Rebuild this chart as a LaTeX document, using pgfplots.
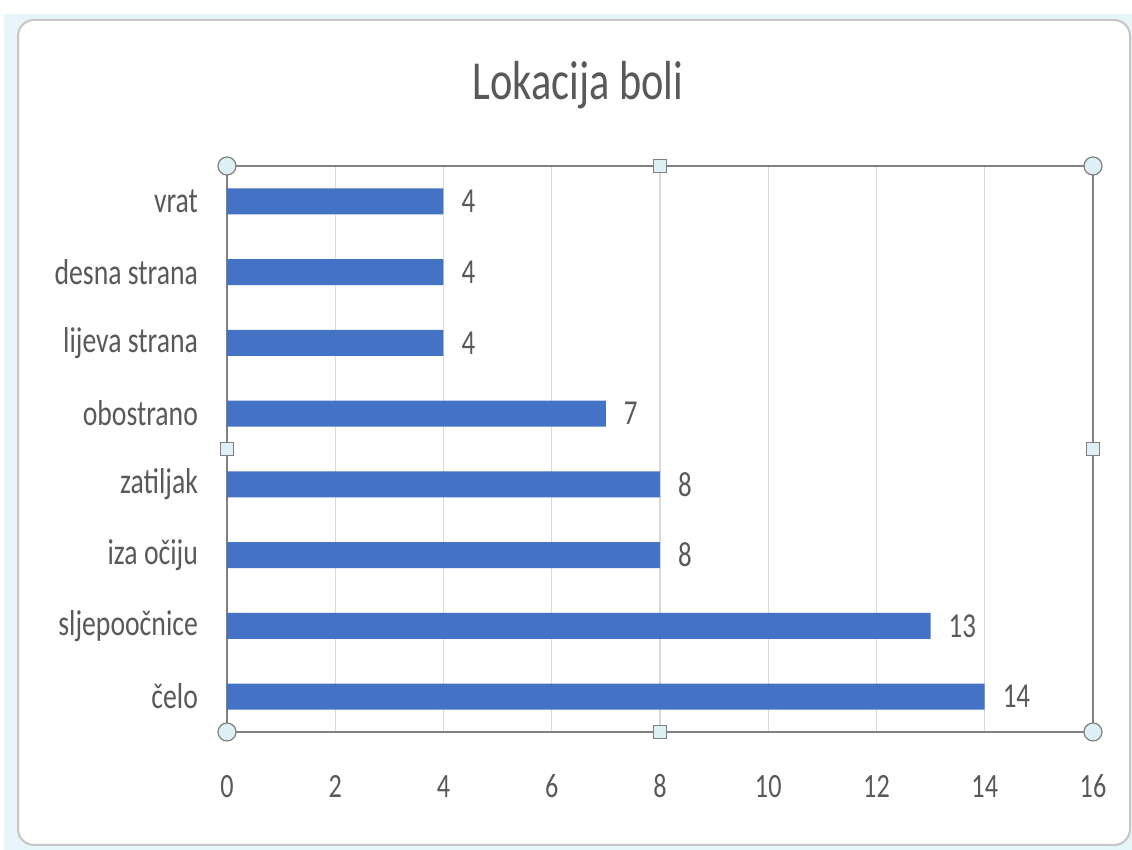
\documentclass[border=0pt]{standalone}
\usepackage{pgfplots}
\pgfplotsset{compat=1.18}
\usepackage{fontspec}
\setmainfont[FakeStretch=0.77]{Carlito}
\definecolor{barblue}{HTML}{4472C4}
\definecolor{txt}{HTML}{595959}
\definecolor{gridc}{HTML}{D9D9D9}
\definecolor{framec}{HTML}{808080}
\definecolor{handle}{HTML}{DDF0F5}
\definecolor{selc}{HTML}{E6F5F8}
\begin{document}
\begin{tikzpicture}[x=1pt,y=1pt]
\path[use as bounding box] (0,0) rectangle (566,425);
\fill[selc] (2,0) rectangle (566,418);
\draw[gray!45, line width=1pt, rounded corners=8pt, fill=white] (9,2.5) rectangle (565,415);
\begin{axis}[
  at={(113.5pt,59pt)}, anchor=south west,
  width=433pt, height=283pt, scale only axis,
  xbar, bar width=13pt,
  xmin=0, xmax=16, ymin=-0.5, ymax=7.5,
  xtick={0,2,...,16}, ytick={0,...,7},
  yticklabels={čelo,sljepoočnice,iza očiju,zatiljak,obostrano,lijeva strana,desna strana,vrat},
  major tick length=0pt,
  xmajorgrids, grid style={gridc, line width=0.6pt},
  axis line style={framec, line width=0.9pt},
  tick label style={txt, font=\fontsize{17}{20}\selectfont},
  xticklabel style={anchor=base, yshift=-33pt},
  yticklabel style={xshift=-11pt, font=\fontsize{18}{21}\selectfont},
  /pgf/number format/assume math mode=true,
  nodes near coords,
  nodes near coords style={txt, font=\fontsize{17.5}{20}\selectfont, anchor=west, xshift=5.5pt},
  clip=false,
]
\addplot[fill=barblue, draw=none] coordinates {(14,0) (13,1) (8,2) (8,3) (7,4) (4,5) (4,6) (4,7)};
\draw[framec, fill=handle, line width=0.6pt] (rel axis cs:0,0) circle (4.5pt);
\draw[framec, fill=handle, line width=0.6pt] (rel axis cs:1,0) circle (4.5pt);
\draw[framec, fill=handle, line width=0.6pt] (rel axis cs:0,1) circle (4.5pt);
\draw[framec, fill=handle, line width=0.6pt] (rel axis cs:1,1) circle (4.5pt);
\draw[framec, fill=handle, line width=0.6pt] ([xshift=-3.2pt,yshift=-3.2pt]rel axis cs:0.5,0) rectangle ([xshift=3.2pt,yshift=3.2pt]rel axis cs:0.5,0);
\draw[framec, fill=handle, line width=0.6pt] ([xshift=-3.2pt,yshift=-3.2pt]rel axis cs:0.5,1) rectangle ([xshift=3.2pt,yshift=3.2pt]rel axis cs:0.5,1);
\draw[framec, fill=handle, line width=0.6pt] ([xshift=-3.2pt,yshift=-3.2pt]rel axis cs:0,0.5) rectangle ([xshift=3.2pt,yshift=3.2pt]rel axis cs:0,0.5);
\draw[framec, fill=handle, line width=0.6pt] ([xshift=-3.2pt,yshift=-3.2pt]rel axis cs:1,0.5) rectangle ([xshift=3.2pt,yshift=3.2pt]rel axis cs:1,0.5);
\end{axis}
\node[txt, font=\fontsize{27.5}{32}\selectfont] at (289,382.5) {Lokacija boli};
\end{tikzpicture}
\end{document}
